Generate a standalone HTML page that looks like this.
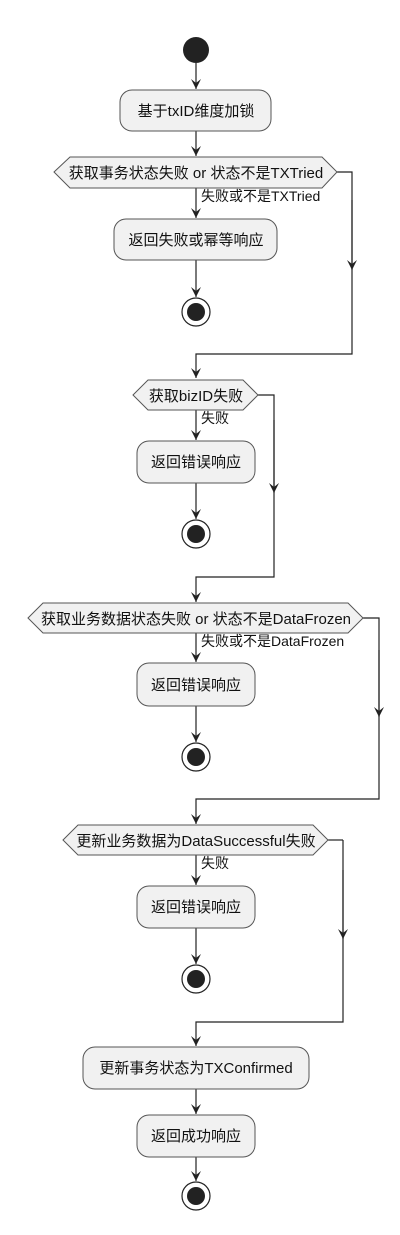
<!DOCTYPE html>
<html><head><meta charset="utf-8"><style>
html,body{margin:0;padding:0;background:#fff;}
svg text{font-family:"Liberation Sans","Noto Sans CJK SC",sans-serif;font-size:15px;fill:#111;}
</style></head><body>
<svg width="400" height="1230" viewBox="0 0 400 1230" xmlns="http://www.w3.org/2000/svg">
<defs>
<marker id="a" viewBox="0 0 10 10" refX="10" refY="5" markerWidth="10" markerHeight="10" markerUnits="userSpaceOnUse" orient="auto">
<polygon points="0,0 10,5 0,10 4,5" fill="#222"/></marker>
</defs>
<g stroke="#222" stroke-width="1.2" fill="none">
<line x1="196" y1="63" x2="196" y2="89" marker-end="url(#a)"/>
<line x1="196" y1="131" x2="196" y2="156" marker-end="url(#a)"/>
<line x1="196" y1="188" x2="196" y2="218" marker-end="url(#a)"/>
<line x1="196" y1="260" x2="196" y2="297" marker-end="url(#a)"/>
<polyline points="337,172 352,172 352,354 196,354 196,378" marker-end="url(#a)"/>
<line x1="352" y1="200" x2="352" y2="270" marker-end="url(#a)"/>
<line x1="196" y1="410" x2="196" y2="440" marker-end="url(#a)"/>
<line x1="196" y1="483" x2="196" y2="519" marker-end="url(#a)"/>
<polyline points="258,395 274,395 274,577 196,577 196,602" marker-end="url(#a)"/>
<line x1="274" y1="420" x2="274" y2="493" marker-end="url(#a)"/>
<line x1="196" y1="633" x2="196" y2="662" marker-end="url(#a)"/>
<line x1="196" y1="706" x2="196" y2="742" marker-end="url(#a)"/>
<polyline points="363,618 379,618 379,799 196,799 196,824" marker-end="url(#a)"/>
<line x1="379" y1="650" x2="379" y2="717" marker-end="url(#a)"/>
<line x1="196" y1="855" x2="196" y2="885" marker-end="url(#a)"/>
<line x1="196" y1="928" x2="196" y2="964" marker-end="url(#a)"/>
<polyline points="343,840 343,840 343,1022 196,1022 196,1046" marker-end="url(#a)"/>
<line x1="328" y1="840" x2="343" y2="840"/>
<line x1="343" y1="870" x2="343" y2="939" marker-end="url(#a)"/>
<line x1="196" y1="1089" x2="196" y2="1114" marker-end="url(#a)"/>
<line x1="196" y1="1157" x2="196" y2="1181" marker-end="url(#a)"/>
</g>
<circle cx="196" cy="50" r="13" fill="#222"/>
<g fill="#f1f1f1" stroke="#555" stroke-width="1">
<rect x="120" y="90" width="151" height="41" rx="12"/>
<polygon points="54,172 70,157 322,157 337,172 322,188 70,188"/>
<rect x="114" y="219" width="163" height="41" rx="12"/>
<polygon points="133,395 148,380 243,380 258,395 243,410 148,410"/>
<rect x="137" y="441" width="118" height="42" rx="12"/>
<polygon points="28,618 43,603 348,603 363,618 348,633 43,633"/>
<rect x="137" y="663" width="118" height="43" rx="12"/>
<polygon points="63,840 78,825 313,825 328,840 313,855 78,855"/>
<rect x="137" y="886" width="118" height="42" rx="12"/>
<rect x="83" y="1047" width="226" height="42" rx="12"/>
<rect x="137" y="1115" width="118" height="42" rx="12"/>
</g>
<g>
<circle cx="196" cy="312" r="14" fill="#fff" stroke="#222" stroke-width="1.2"/><circle cx="196" cy="312" r="9" fill="#222"/>
<circle cx="196" cy="534" r="14" fill="#fff" stroke="#222" stroke-width="1.2"/><circle cx="196" cy="534" r="9" fill="#222"/>
<circle cx="196" cy="757" r="14" fill="#fff" stroke="#222" stroke-width="1.2"/><circle cx="196" cy="757" r="9" fill="#222"/>
<circle cx="196" cy="979" r="14" fill="#fff" stroke="#222" stroke-width="1.2"/><circle cx="196" cy="979" r="9" fill="#222"/>
<circle cx="196" cy="1196" r="14" fill="#fff" stroke="#222" stroke-width="1.2"/><circle cx="196" cy="1196" r="9" fill="#222"/>
</g>
<g text-anchor="middle">
<text x="196" y="116">基于txID维度加锁</text>
<text x="196" y="178">获取事务状态失败 or 状态不是TXTried</text>
<text x="196" y="245">返回失败或幂等响应</text>
<text x="196" y="401">获取bizID失败</text>
<text x="196" y="467">返回错误响应</text>
<text x="196" y="624">获取业务数据状态失败 or 状态不是DataFrozen</text>
<text x="196" y="690">返回错误响应</text>
<text x="196" y="846">更新业务数据为DataSuccessful失败</text>
<text x="196" y="912">返回错误响应</text>
<text x="196" y="1073">更新事务状态为TXConfirmed</text>
<text x="196" y="1141">返回成功响应</text>
</g>
<g>
<text x="201" y="201" style="font-size:14px">失败或不是TXTried</text>
<text x="201" y="423" style="font-size:14px">失败</text>
<text x="201" y="646" style="font-size:14px">失败或不是DataFrozen</text>
<text x="201" y="868" style="font-size:14px">失败</text>
</g>
</svg>
</body></html>
